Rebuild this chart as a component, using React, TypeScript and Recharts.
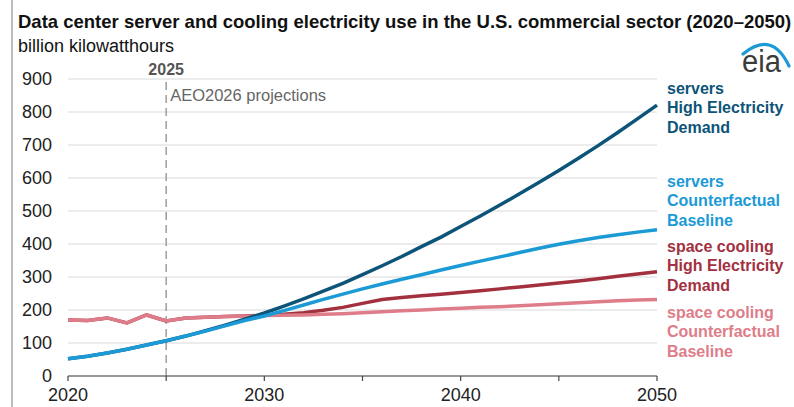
import React from "react";
import {
  LineChart,
  Line,
  XAxis,
  YAxis,
  CartesianGrid,
  ReferenceLine,
} from "recharts";

const years = [
  2020, 2021, 2022, 2023, 2024, 2025, 2026, 2027, 2028, 2029, 2030, 2031,
  2032, 2033, 2034, 2035, 2036, 2037, 2038, 2039, 2040, 2041, 2042, 2043,
  2044, 2045, 2046, 2047, 2048, 2049, 2050,
];

// billion kWh
const serversHigh = [
  52, 60, 70, 81, 94, 107, 121, 137, 154, 172, 191, 212, 234, 257, 281, 307,
  334, 362, 392, 421, 453, 485, 518, 552, 587, 623, 660, 698, 738, 779, 821,
];
const serversBaseline = [
  52, 60, 70, 81, 94, 107, 121, 136, 152, 168, 182, 198, 215, 232, 248, 264,
  279, 293, 307, 321, 335, 348, 361, 374, 387, 399, 410, 420, 428, 436, 443,
];
const coolingHigh = [
  170, 168, 176, 161, 185, 167, 176, 178, 180, 182, 184, 187, 192, 199, 208,
  220, 232, 238, 243, 248, 253, 258, 264, 270, 276, 282, 288, 295, 302, 309,
  316,
];
const coolingBaseline = [
  170, 168, 176, 161, 185, 167, 176, 178, 180, 181, 183, 184, 185, 187, 189,
  192, 195, 198, 200, 203, 205, 208, 210, 213, 216, 219, 222, 225, 228, 230,
  232,
];

const xTicks = [2020, 2025, 2030, 2035, 2040, 2045, 2050];
const yTicks = [0, 100, 200, 300, 400, 500, 600, 700, 800, 900];

const DARK_BLUE = "#0d5479";
const LIGHT_BLUE = "#1b9ad6";
const DARK_RED = "#a2303f";
const PINK = "#de7d89";

const FONT = '"Liberation Sans", Arial, Helvetica, sans-serif';

const rows = years.map((year, i) => ({
  year,
  serversHigh: serversHigh[i],
  serversBaseline: serversBaseline[i],
  coolingHigh: coolingHigh[i],
  coolingBaseline: coolingBaseline[i],
}));

const seriesLabels = [
  { lines: ["servers", "High Electricity", "Demand"], color: DARK_BLUE, y: 94 },
  { lines: ["servers", "Counterfactual", "Baseline"], color: LIGHT_BLUE, y: 187 },
  { lines: ["space cooling", "High Electricity", "Demand"], color: DARK_RED, y: 252 },
  { lines: ["space cooling", "Counterfactual", "Baseline"], color: PINK, y: 318 },
];

function ProjectionLabel(props: any) {
  const { viewBox } = props;
  if (!viewBox) return null;
  const x = viewBox.x;
  const y = viewBox.y;
  return (
    <g fontFamily={FONT}>
      <text x={x} y={y - 4} textAnchor="middle" fontSize={16} fontWeight="bold" fill="#555">
        2025
      </text>
      <text x={x + 4} y={y + 22} fontSize={16.5} fill="#666">
        AEO2026 projections
      </text>
    </g>
  );
}

export default function App() {
  return (
    <div
      style={{
        position: "absolute",
        left: 0,
        top: 0,
        width: 794,
        height: 407,
        background: "#fff",
        fontFamily: FONT,
      }}
    >
      <LineChart
        width={794}
        height={407}
        data={rows}
        margin={{ top: 79, right: 137, bottom: 0, left: 12 }}
      >
        <CartesianGrid vertical={false} stroke="#d9d9d9" strokeWidth={1.2} />
        <XAxis
          dataKey="year"
          type="number"
          domain={[2020, 2050]}
          ticks={xTicks}
          tickFormatter={(v: number) => (v % 10 === 0 ? String(v) : "")}
          tick={{ fill: "#222", fontSize: 18, fontFamily: FONT }}
          axisLine={{ stroke: "#444", strokeWidth: 1.2 }}
          tickLine={{ stroke: "#444", strokeWidth: 1.2 }}
          tickSize={5}
          tickMargin={7}
          height={31}
        />
        <YAxis
          domain={[0, 900]}
          ticks={yTicks}
          width={56}
          axisLine={false}
          tickLine={false}
          tickMargin={10}
          tick={{ fill: "#222", fontSize: 18, fontFamily: FONT }}
        />
        <ReferenceLine
          x={2025}
          stroke="#9c9c9c"
          strokeWidth={1.5}
          strokeDasharray="8 5"
          label={<ProjectionLabel />}
        />
        <Line
          dataKey="coolingHigh"
          stroke={DARK_RED}
          strokeWidth={3.5}
          dot={false}
          type="linear"
          isAnimationActive={false}
        />
        <Line
          dataKey="coolingBaseline"
          stroke={PINK}
          strokeWidth={3.5}
          dot={false}
          type="linear"
          isAnimationActive={false}
        />
        <Line
          dataKey="serversHigh"
          stroke={DARK_BLUE}
          strokeWidth={3.5}
          dot={false}
          type="linear"
          isAnimationActive={false}
        />
        <Line
          dataKey="serversBaseline"
          stroke={LIGHT_BLUE}
          strokeWidth={3.5}
          dot={false}
          type="linear"
          isAnimationActive={false}
        />
      </LineChart>

      <svg
        width={794}
        height={407}
        style={{ position: "absolute", left: 0, top: 0, pointerEvents: "none" }}
        fontFamily={FONT}
      >
        <line x1={12} y1={0} x2={12} y2={407} stroke="#a6a6a6" strokeWidth={1.5} />
        <text x={18} y={28} fontSize={18.5} fontWeight="bold" fill="#111">
          Data center server and cooling electricity use in the U.S. commercial sector (2020–2050)
        </text>
        <text x={18} y={52} fontSize={18} fill="#111">
          billion kilowatthours
        </text>

        {/* eia logo */}
        <path
          d="M743,54 Q772,30 789,66"
          fill="none"
          stroke={LIGHT_BLUE}
          strokeWidth={3.2}
          strokeLinecap="round"
        />
        <text x={742} y={72} fontSize={31} fill="#3b3b3b" textLength={39} lengthAdjust="spacingAndGlyphs">
          eia
        </text>

        {seriesLabels.map((s) => (
          <text key={s.lines.join("-")} fontSize={16} fontWeight="bold" fill={s.color}>
            {s.lines.map((line, i) => (
              <tspan key={line} x={667} y={s.y + i * 19.3}>
                {line}
              </tspan>
            ))}
          </text>
        ))}
      </svg>
    </div>
  );
}
